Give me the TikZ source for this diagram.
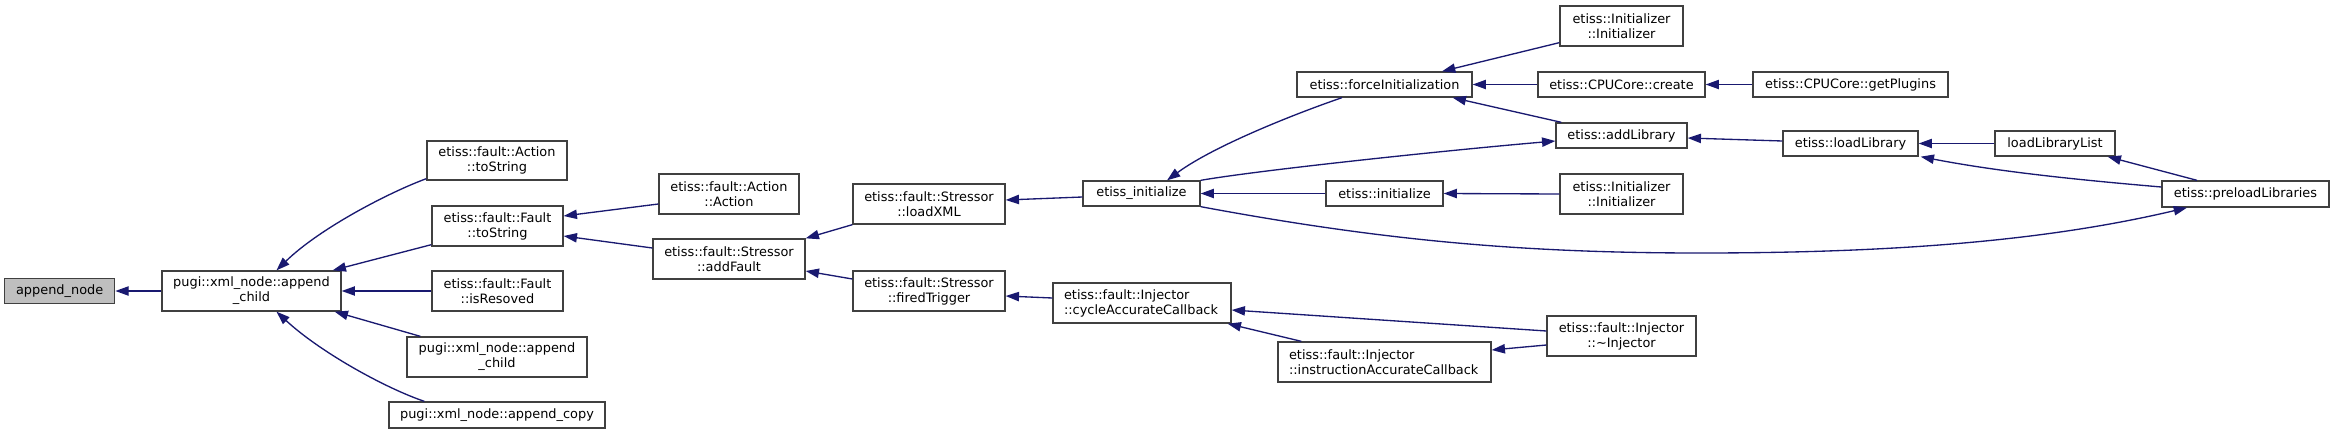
\documentclass[tikz,border=0pt]{standalone}
\usepackage{fontspec}
\setmainfont{DejaVu Sans}
\usetikzlibrary{arrows.meta}
\definecolor{edgeblue}{HTML}{191970}
\definecolor{boxline}{HTML}{404040}
\definecolor{boxfill}{HTML}{BFBFBF}
\tikzset{
  fn/.style={draw=boxline, line width=1.33pt, fill=white, inner sep=0pt, align=center,
    font=\fontsize{12.9}{15}\selectfont},
  fnleft/.style={fn, align=left},
  edge/.style={draw=edgeblue, line width=1.33pt, -{Triangle[length=13.3pt,width=9.3pt]}}
}
\begin{document}
\begin{tikzpicture}[x=1pt,y=-1pt]
\path[use as bounding box] (0,0) rectangle (2335,434);
% nodes
\node[fn, fill=boxfill, minimum width=110pt, minimum height=25pt] (an) at (59.7,291) {append\_node};
\node[fn, minimum width=179pt, minimum height=40pt] (ac1) at (251.5,291) {pugi::xml\_node::append\\\_child};
\node[fn, minimum width=140pt, minimum height=39pt] (ats) at (497,160.5) {etiss::fault::Action\\::toString};
\node[fn, minimum width=131pt, minimum height=40pt] (fts) at (497.5,226) {etiss::fault::Fault\\::toString};
\node[fn, minimum width=131pt, minimum height=40pt] (fir) at (497.5,291) {etiss::fault::Fault\\::isResoved};
\node[fn, minimum width=180pt, minimum height=40pt] (ac2) at (497,357) {pugi::xml\_node::append\\\_child};
\node[fn, minimum width=216pt, minimum height=26pt] (acp) at (497,415) {pugi::xml\_node::append\_copy};
\node[fn, minimum width=140pt, minimum height=40pt] (aa) at (729,194) {etiss::fault::Action\\::Action};
\node[fn, minimum width=152pt, minimum height=40pt] (saf) at (729,259) {etiss::fault::Stressor\\::addFault};
\node[fn, minimum width=152pt, minimum height=40pt] (slx) at (929,204) {etiss::fault::Stressor\\::loadXML};
\node[fn, minimum width=152pt, minimum height=40pt] (sft) at (929,291) {etiss::fault::Stressor\\::firedTrigger};
\node[fn, minimum width=117pt, minimum height=25pt] (ei) at (1141.5,193.5) {etiss\_initialize};
\node[fnleft, text width=156pt, minimum width=178pt, minimum height=40pt] (cac) at (1142,303) {etiss::fault::Injector\\::cycleAccurateCallback};
\node[fn, minimum width=175pt, minimum height=25pt] (fi) at (1384.5,84.5) {etiss::forceInitialization};
\node[fn, minimum width=117pt, minimum height=25pt] (ini) at (1384.5,193.5) {etiss::initialize};
\node[fnleft, text width=191pt, minimum width=213pt, minimum height=40pt] (iac) at (1384.5,362) {etiss::fault::Injector\\::instructionAccurateCallback};
\node[fn, minimum width=123pt, minimum height=40pt] (ii1) at (1621.5,26) {etiss::Initializer\\::Initializer};
\node[fn, minimum width=167pt, minimum height=25pt] (cc) at (1621.5,84.5) {etiss::CPUCore::create};
\node[fn, minimum width=131pt, minimum height=25pt] (al) at (1621.5,135.5) {etiss::addLibrary};
\node[fn, minimum width=123pt, minimum height=40pt] (ii2) at (1621.5,194) {etiss::Initializer\\::Initializer};
\node[fn, minimum width=149pt, minimum height=40pt] (dinj) at (1621.5,336) {etiss::fault::Injector\\::\textasciitilde Injector};
\node[fn, minimum width=195pt, minimum height=25pt] (gp) at (1850.5,84.5) {etiss::CPUCore::getPlugins};
\node[fn, minimum width=135pt, minimum height=25pt] (ll) at (1850.5,143.5) {etiss::loadLibrary};
\node[fn, minimum width=120pt, minimum height=25pt] (lll) at (2055,143.5) {loadLibraryList};
\node[fn, minimum width=167pt, minimum height=26pt] (pl) at (2245.5,194) {etiss::preloadLibraries};
% edges
\draw[edge] (ac1.west) -- (an.east);
\draw[edge] ([yshift=2pt]ats.south west) .. controls (390,192) and (320,228) .. ([xshift=25pt]ac1.north);
\draw[edge] ([yshift=2pt]fts.south west) -- ([xshift=-9pt]ac1.north east);
\draw[edge] (fir.west) -- (ac1.east);
\draw[edge] ([xshift=14pt]ac2.north west) -- ([xshift=-7pt]ac1.south east);
\draw[edge] ([xshift=36pt]acp.north west) .. controls (385,388) and (320,352) .. ([xshift=25pt]ac1.south);
\draw[edge] ([yshift=-10pt]aa.west) -- ([yshift=10pt]fts.east);
\draw[edge] ([yshift=11pt]saf.west) -- ([yshift=-10pt]fts.east);
\draw[edge] (slx.south west) -- (saf.north east);
\draw[edge] ([yshift=12pt]sft.west) -- ([yshift=-12pt]saf.east);
\draw[edge] ([yshift=-3.5pt]ei.west) -- ([yshift=4pt]slx.east);
\draw[edge] ([yshift=5pt]cac.west) -- ([yshift=-5pt]sft.east);
\draw[edge] ([xshift=-42.5pt]fi.south) .. controls (1300,112) and (1215,145) .. ([xshift=25.5pt]ei.north);
\draw[edge] (ei.north east) .. controls (1260,170) and (1450,150) .. ([yshift=-5.5pt]al.west);
\draw[edge] (ini.west) -- (ei.east);
\draw[edge] (ei.south east) .. controls (1380,240) and (1520,253) .. (1700,253)
  .. controls (1900,253) and (2050,240) .. ([xshift=-58.5pt]pl.south);
\draw[edge] ([yshift=4pt]ii1.south west) -- ([xshift=57.5pt]fi.north);
\draw[edge] (cc.west) -- (fi.east);
\draw[edge] ([xshift=6pt]al.north west) -- ([xshift=-20pt]fi.south east);
\draw[edge] (gp.west) -- (cc.east);
\draw[edge] ([yshift=2.5pt]ll.west) -- ([yshift=-2.5pt]al.east);
\draw[edge] (ii2.west) -- (ini.east);
\draw[edge] ([yshift=5pt]dinj.west) -- ([yshift=-7pt]cac.east);
\draw[edge] ([xshift=24pt]iac.north west) -- ([xshift=-4pt]cac.south east);
\draw[edge] ([yshift=-9pt]dinj.west) -- ([yshift=12pt]iac.east);
\draw[edge] (lll.west) -- (ll.east);
\draw[edge] ([yshift=7pt]pl.west) .. controls (2080,180) and (2000,172) .. ([xshift=2pt]ll.south east);
\draw[edge] ([xshift=-48.5pt]pl.north) -- ([xshift=-8pt]lll.south east);
\end{tikzpicture}
\end{document}
